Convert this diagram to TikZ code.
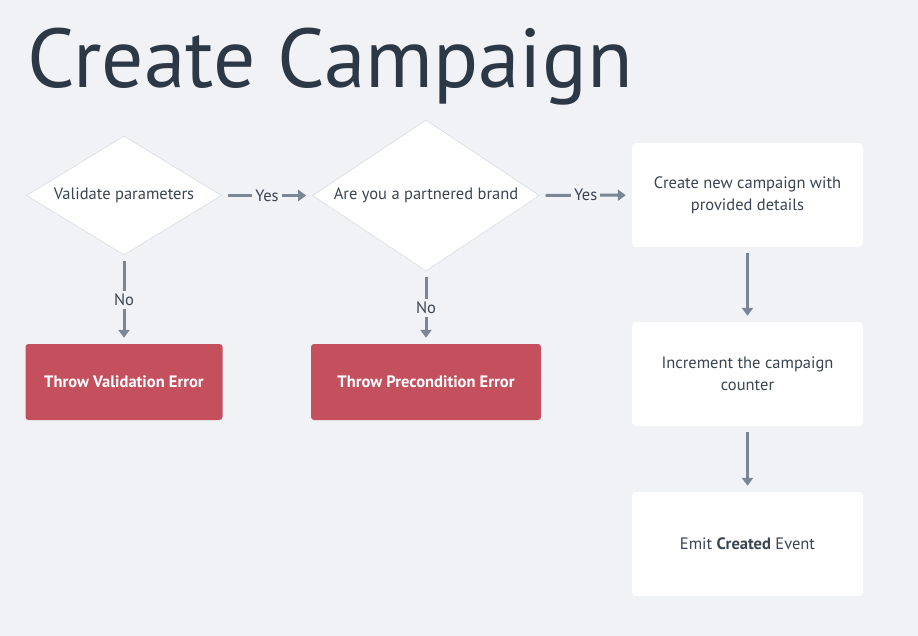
\documentclass[tikz,border=0pt]{standalone}
\usepackage{fontspec}
\setmainfont{PT Sans}
\usetikzlibrary{shapes.geometric,arrows.meta}
\definecolor{pagebg}{HTML}{F0F2F5}
\definecolor{errred}{HTML}{C4505E}
\definecolor{arrowgray}{HTML}{7B8694}
\definecolor{inkdark}{HTML}{3A4452}
\definecolor{titleink}{HTML}{2C3846}
\definecolor{edgegray}{HTML}{D9DDE2}

\begin{document}
\begin{tikzpicture}[x=1pt,y=-1pt,
  decision/.style={diamond,draw=edgegray,line width=0.6pt,fill=white,inner sep=0pt,text=inkdark,font=\fontsize{16.5}{20}\selectfont},
  stepbox/.style={rectangle,rounded corners=4pt,fill=white,minimum width=231pt,minimum height=104pt,align=center,text=inkdark,font=\fontsize{16.5}{22}\selectfont},
  errbox/.style={rectangle,rounded corners=3pt,fill=errred,minimum height=76pt,text=white,font=\fontsize{16.5}{20}\selectfont\bfseries},
  flow/.style={line width=3pt,draw=arrowgray,-{Triangle[width=11pt,length=8pt]},shorten <=6pt,shorten >=6pt},
  lbl/.style={fill=pagebg,text=inkdark,inner sep=3pt,font=\fontsize{16.5}{20}\selectfont}]
\useasboundingbox[fill=pagebg] (0,0) rectangle (918,636);

% Title
\node[anchor=base west,inner sep=0pt,text=titleink,font=\fontsize{83.5}{90}\selectfont] (title) at (27,88) {Create Campaign};

% Decisions
\node[decision,aspect=1.64,minimum width=195pt,minimum height=119pt] (validate) at (124,195.5) {Validate parameters};
\node[decision,aspect=1.5,minimum width=227pt,minimum height=151pt] (partner) at (426,195.5) {Are you a partnered brand};

% Errors
\node[errbox,minimum width=197pt] (valerr) at (124,382) {Throw Validation Error};
\node[errbox,minimum width=230pt] (precerr) at (426,382) {Throw Precondition Error};

% Steps
\node[stepbox] (create) at (747.5,195) {Create new campaign with\\provided details};
\node[stepbox] (counter) at (747.5,374) {Increment the campaign\\counter};
\node[stepbox] (emit) at (747.5,544) {Emit \textbf{Created} Event};

% Flow
\draw[flow] (validate) -- node[lbl]{Yes} (partner);
\draw[flow] (partner) -- node[lbl]{Yes} (create);
\draw[flow] (validate) -- node[lbl]{No} (valerr);
\draw[flow] (partner) -- node[lbl]{No} (precerr);
\draw[flow] (create) -- (counter);
\draw[flow] (counter) -- (emit);
\end{tikzpicture}
\end{document}
